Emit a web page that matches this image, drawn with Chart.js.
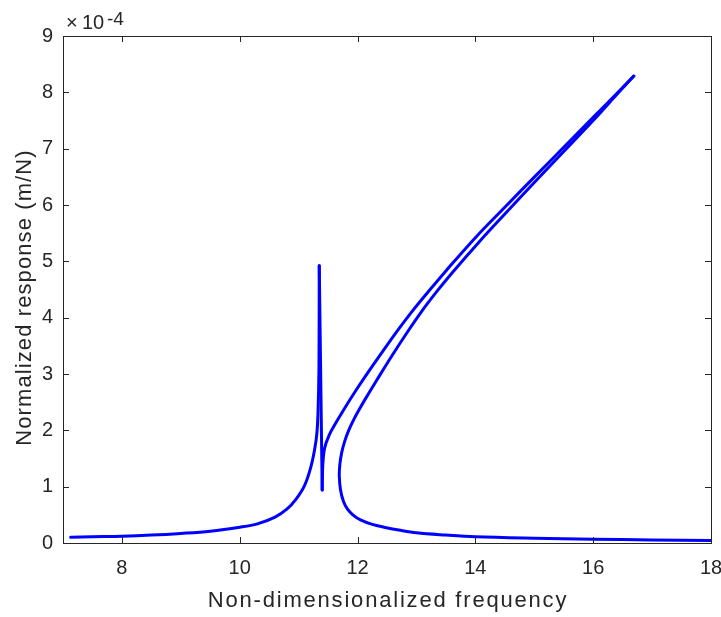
<!DOCTYPE html>
<html>
<head>
<meta charset="utf-8">
<script src="https://cdn.jsdelivr.net/npm/chart.js@4.4.1/dist/chart.umd.min.js"></script>
<style>
    html, body { margin: 0; padding: 0; background: #fff; }
    #wrap { width: 721px; height: 617px; }
</style>
</head>
<body>
<div id="wrap"><canvas id="myChart"></canvas></div>
<script>
// response values are in units of 1e-4 m/N (axis shows x10^-4)
const freqRise = [7.13, 7.5, 8.0, 8.5, 9.0, 9.5, 10.0, 10.3, 10.6, 10.8, 10.95, 11.1, 11.2, 11.27, 11.31, 11.33, 11.345, 11.35];
const respRise = [0.10, 0.11, 0.12, 0.14, 0.17, 0.21, 0.28, 0.34, 0.46, 0.60, 0.77, 1.02, 1.32, 1.65, 1.95, 2.35, 3.10, 4.92];

const freqSpike = [11.35, 11.40];
const respSpike = [4.92, 0.94];

const freqUpper = [11.40, 11.41, 11.44, 11.52, 11.63, 11.75, 11.93, 12.12, 12.46, 12.7, 12.94, 13.2, 13.5, 14.0, 14.5, 15.0, 15.5, 16.0, 16.4, 16.69];
const respUpper = [0.94, 1.38, 1.68, 1.92, 2.13, 2.34, 2.64, 2.94, 3.45, 3.80, 4.13, 4.46, 4.83, 5.42, 5.96, 6.495, 7.025, 7.555, 7.98, 8.29];

const freqLower = [16.69, 16.4, 16.0, 15.5, 15.0, 14.5, 14.06, 13.6, 13.35, 13.08, 12.85, 12.6, 12.32, 12.18, 12.05, 11.94, 11.85, 11.78, 11.73, 11.70, 11.69, 11.71, 11.76, 11.83, 11.92, 12.05, 12.25, 12.45, 12.7, 13.0, 13.5, 14.0, 15.0, 16.0, 17.0, 18.0];
const respLower = [8.29, 7.96, 7.50, 6.95, 6.40, 5.84, 5.34, 4.79, 4.47, 4.10, 3.75, 3.35, 2.88, 2.64, 2.41, 2.20, 2.00, 1.80, 1.60, 1.40, 1.20, 0.95, 0.74, 0.60, 0.50, 0.41, 0.33, 0.28, 0.23, 0.18, 0.14, 0.11, 0.085, 0.068, 0.055, 0.045];

const xTicks = [8, 10, 12, 14, 16, 18];
const yTicks = [0, 1, 2, 3, 4, 5, 6, 7, 8, 9];

const xLabel = 'Non-dimensionalized frequency';
const yLabel = 'Normalized response (m/N)';

const axisColor = '#262626';
const lineColor = '#0000ff';
const fontFamily = "'Liberation Sans', Arial, Helvetica, sans-serif";

function toPoints(xs, ys) {
    return xs.map((x, i) => ({ x: x, y: ys[i] }));
}

function branch(xs, ys, tension) {
    return {
        data: toPoints(xs, ys),
        showLine: true,
        borderColor: lineColor,
        backgroundColor: lineColor,
        borderWidth: 3,
        pointRadius: 0,
        tension: tension,
        borderCapStyle: 'round',
        borderJoinStyle: 'round'
    };
}

// box, inward ticks, axis titles and exponent label (MATLAB style)
const matlabAxes = {
    id: 'matlabAxes',
    afterDraw(chart) {
        const { ctx, chartArea: { top, bottom, left, right }, scales: { x, y } } = chart;
        const tl = 6;
        ctx.save();
        ctx.strokeStyle = axisColor;
        ctx.lineWidth = 1;
        ctx.beginPath();
        xTicks.forEach(v => {
            const px = Math.round(x.getPixelForValue(v)) + 0.5;
            ctx.moveTo(px, bottom);
            ctx.lineTo(px, bottom - tl);
            ctx.moveTo(px, top);
            ctx.lineTo(px, top + tl);
        });
        yTicks.forEach(v => {
            const py = Math.round(y.getPixelForValue(v)) + 0.5;
            ctx.moveTo(left, py);
            ctx.lineTo(left + tl, py);
            ctx.moveTo(right, py);
            ctx.lineTo(right - tl, py);
        });
        ctx.stroke();
        ctx.strokeRect(Math.round(left) + 0.5, Math.round(top) + 0.5,
            Math.round(right - left), Math.round(bottom - top));

        ctx.fillStyle = axisColor;
        ctx.font = '22px ' + fontFamily;
        ctx.textAlign = 'center';
        ctx.textBaseline = 'alphabetic';
        ctx.letterSpacing = '1.8px';
        ctx.fillText(xLabel, (left + right) / 2 + 1, 607);

        ctx.save();
        ctx.letterSpacing = '1.1px';
        ctx.translate(31, (top + bottom) / 2 + 8);
        ctx.rotate(-Math.PI / 2);
        ctx.fillText(yLabel, 0, 0);
        ctx.restore();

        ctx.letterSpacing = '0px';
        ctx.textAlign = 'left';
        ctx.font = '20px ' + fontFamily;
        ctx.fillText('\u00d7', 66, 29);
        ctx.fillText('10', 82, 29);
        ctx.font = '19px ' + fontFamily;
        ctx.fillText('-4', 107, 25);
        ctx.restore();
    }
};

const ctx = document.getElementById('myChart').getContext('2d');

const chart = new Chart(ctx, {
    type: 'scatter',
    data: {
        datasets: [
            branch(freqRise, respRise, 0.35),
            branch(freqSpike, respSpike, 0),
            branch(freqUpper, respUpper, 0.35),
            branch(freqLower, respLower, 0.35)
        ]
    },
    options: {
        responsive: true,
        maintainAspectRatio: false,
        animation: false,
        layout: {
            padding: { top: 36, right: 10, bottom: 0, left: 0 }
        },
        plugins: {
            legend: { display: false },
            tooltip: { enabled: false }
        },
        scales: {
            x: {
                type: 'linear',
                min: 7,
                max: 18,
                afterBuildTicks: s => { s.ticks = xTicks.map(v => ({ value: v })); },
                afterFit: s => { s.height = 74; s.paddingLeft = 0; s.paddingRight = 0; },
                grid: { display: false, drawTicks: false },
                border: { display: false },
                ticks: {
                    padding: 13,
                    color: axisColor,
                    maxRotation: 0,
                    autoSkip: false,
                    font: { family: fontFamily, size: 20 }
                }
            },
            y: {
                type: 'linear',
                min: 0,
                max: 9,
                afterBuildTicks: s => { s.ticks = yTicks.map(v => ({ value: v })); },
                afterFit: s => { s.width = 63; },
                grid: { display: false, drawTicks: false },
                border: { display: false },
                ticks: {
                    padding: 10,
                    color: axisColor,
                    autoSkip: false,
                    font: { family: fontFamily, size: 20 }
                }
            }
        }
    },
    plugins: [matlabAxes]
});
</script>
</body>
</html>
